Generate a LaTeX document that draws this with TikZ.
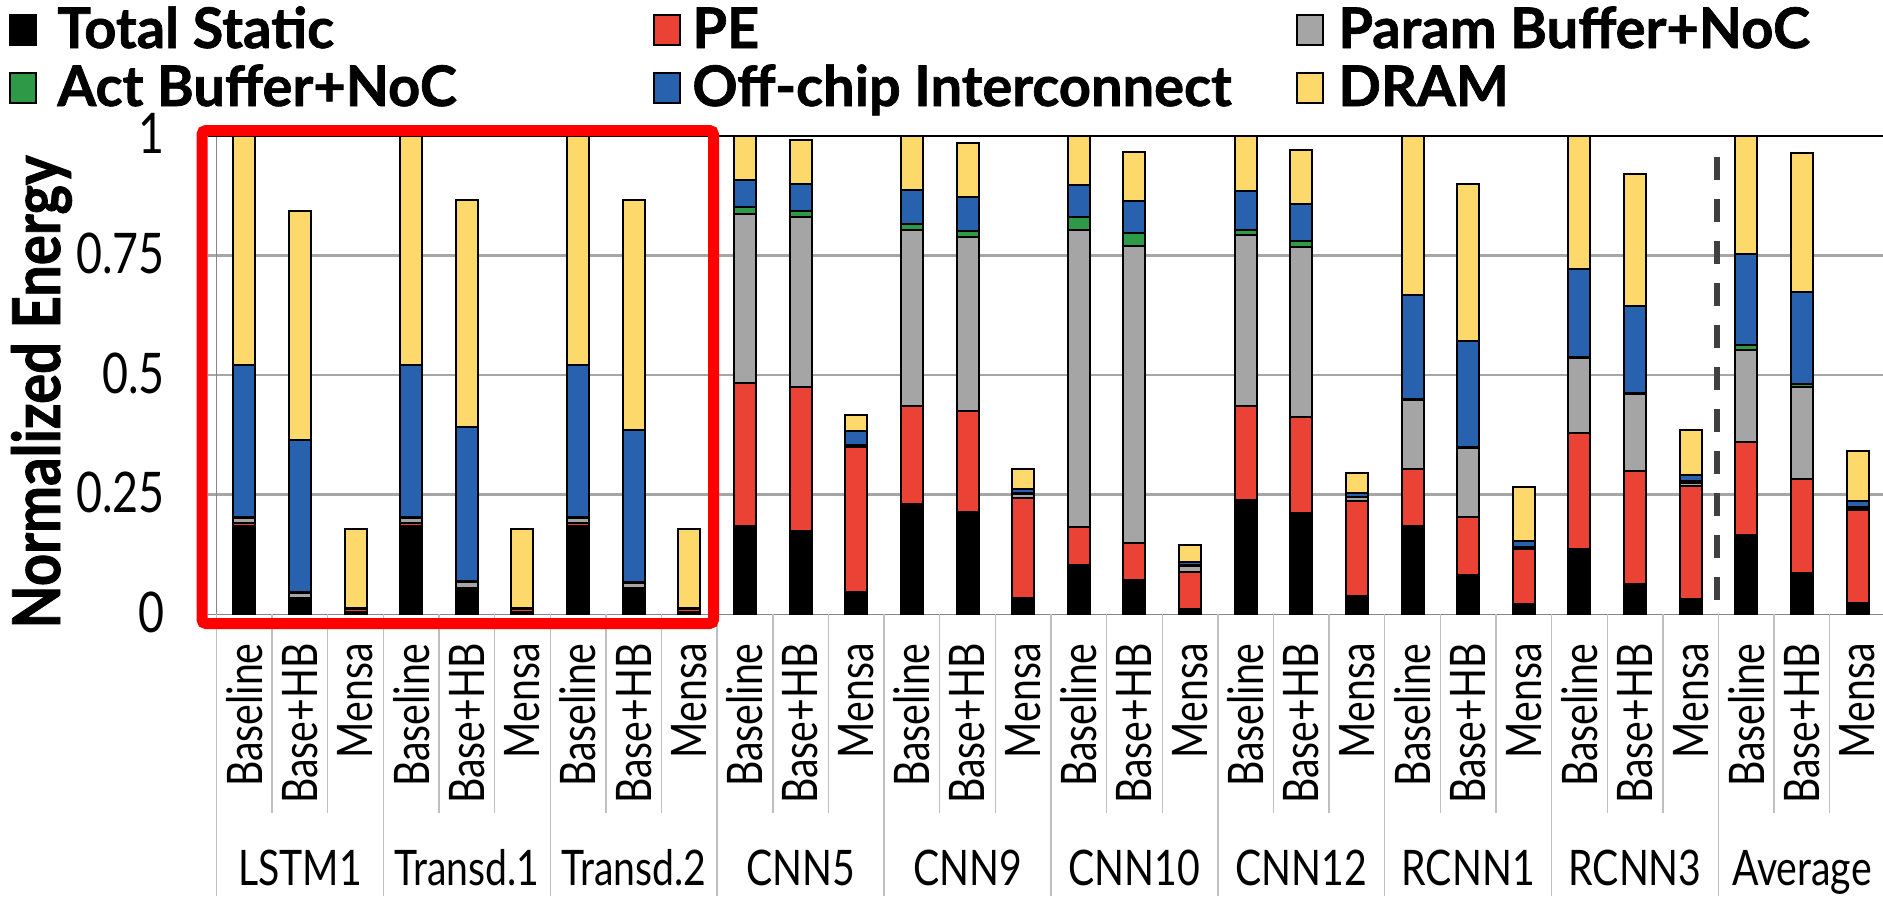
\documentclass[tikz,border=0pt]{standalone}
\usepackage{fontspec}
\setmainfont{Lato}
\newfontfamily\gsans{Lato}[FakeStretch=0.8]
\newfontfamily\gleg{Lato}[FakeStretch=1.0,FakeBold=1.2]
\newfontfamily\gtitle{Lato}[FakeStretch=0.85,FakeBold=1.2]
\definecolor{pec}{HTML}{EA4335}
\definecolor{paramc}{HTML}{A5A5A5}
\definecolor{actc}{HTML}{2E9A48}
\definecolor{offc}{HTML}{2862AE}
\definecolor{dramc}{HTML}{FDD86B}
\definecolor{gridc}{HTML}{A6A6A6}
\definecolor{axisc}{HTML}{868686}
\definecolor{sepc}{HTML}{BFBFBF}
\definecolor{dashc}{HTML}{404040}
\definecolor{boxred}{HTML}{FF0000}
\begin{document}
\begin{tikzpicture}[x=0.5pt,y=-0.5pt,
  seg/.style={draw=black,line width=1pt},
  gridline/.style={draw=gridc,line width=1.2pt},
  axisline/.style={draw=axisc,line width=0.7pt},
  sepline/.style={draw=sepc,line width=0.7pt},
  ticklab/.style={font=\gsans\fontsize{28}{28}\selectfont,inner sep=0pt,anchor=base east},
  catlab/.style={font=\gsans\fontsize{24.5}{24.5}\selectfont,inner sep=0pt,rotate=90,anchor=east},
  grplab/.style={font=\gsans\fontsize{24.5}{24.5}\selectfont,inner sep=0pt,anchor=base},
  legtext/.style={font=\gleg\bfseries\fontsize{28}{28}\selectfont,inner sep=0pt,anchor=base west},
  legmark/.style={draw=black,line width=1pt},
  titlelab/.style={font=\gtitle\bfseries\fontsize{33}{33}\selectfont,inner sep=0pt,rotate=90,anchor=base}
]
\useasboundingbox (0,0) rectangle (1883,896);

% gridlines
\foreach \v in {0.25,0.5,0.75} {
  \draw[gridline] (208,{614.3-478.6*\v}) -- (1883,{614.3-478.6*\v});
}
% axes
\draw[axisline] (208,614.3) -- (1883,614.3);
\draw[axisline] (216.5,135.7) -- (216.5,614.3);
% category separators
\foreach \g in {0,...,10} {
  \draw[sepline] ({216.5+3*\g*55.63},614.3) -- ({216.5+3*\g*55.63},896);
}
\foreach \g in {0,...,9} {
  \foreach \k in {1,2} {
    \draw[sepline] ({216.5+(3*\g+\k)*55.63},614.3) -- ({216.5+(3*\g+\k)*55.63},813);
  }
}

% bars
\foreach \i/\a/\b/\c/\d/\e/\f in {
0/0.184/0.190/0.201/0.203/0.520/1.0,
1/0.029/0.034/0.045/0.047/0.365/0.842,
2/0.004/0.011/0.012/0.013/0.014/0.178,
3/0.184/0.190/0.201/0.203/0.520/1.0,
4/0.050/0.056/0.067/0.069/0.391/0.866,
5/0.004/0.011/0.012/0.013/0.014/0.178,
6/0.184/0.190/0.201/0.203/0.520/1.0,
7/0.050/0.056/0.066/0.068/0.386/0.866,
8/0.004/0.011/0.012/0.013/0.014/0.178,
9/0.184/0.483/0.836/0.850/0.908/1.0,
10/0.175/0.475/0.830/0.842/0.900/0.992,
11/0.047/0.350/0.352/0.354/0.382/0.416,
12/0.230/0.436/0.804/0.816/0.887/1.0,
13/0.214/0.424/0.788/0.800/0.871/0.984,
14/0.034/0.244/0.252/0.253/0.261/0.303,
15/0.104/0.182/0.804/0.830/0.897/1.0,
16/0.071/0.148/0.770/0.796/0.863/0.967,
17/0.012/0.088/0.100/0.102/0.109/0.144,
18/0.238/0.436/0.793/0.804/0.884/1.0,
19/0.212/0.412/0.767/0.779/0.857/0.971,
20/0.038/0.237/0.245/0.246/0.253/0.295,
21/0.184/0.303/0.447/0.449/0.667/1.0,
22/0.083/0.203/0.347/0.349/0.571/0.900,
23/0.021/0.137/0.139/0.141/0.153/0.266,
24/0.137/0.379/0.535/0.537/0.722/1.0,
25/0.063/0.299/0.460/0.462/0.645/0.921,
26/0.033/0.269/0.274/0.278/0.292/0.386,
27/0.166/0.361/0.553/0.562/0.753/1.0,
28/0.086/0.282/0.475/0.482/0.674/0.963,
29/0.024/0.219/0.222/0.225/0.237/0.341} {
  \pgfmathsetmacro\xl{216.5+(\i+0.5)*55.63-11}
  \pgfmathsetmacro\xr{\xl+22}
  \foreach \lo/\hi/\col in {0/\a/black,\a/\b/pec,\b/\c/paramc,\c/\d/actc,\d/\e/offc,\e/\f/dramc} {
    \draw[seg,fill=\col] (\xl,{614.3-478.6*\lo}) rectangle (\xr,{614.3-478.6*\hi});
  }
}

% top border line
\draw[black,line width=1.2pt] (208,135.7) -- (1883,135.7);
% dashed separator
\draw[dashc,line width=3.25pt,dash pattern=on 11.65pt off 9.35pt] (1717,156.7) -- (1717,600);
% red highlight box
\draw[boxred,line width=5.5pt,rounded corners=2pt] (202,130.5) rectangle (713.5,623.5);

% tick labels
\node[ticklab] (t0) at (165,{614.3+18}) {0};
\node[ticklab] (t1) at (165,{494.7+18}) {0.25};
\node[ticklab] (t2) at (165,{375.0+18}) {0.5};
\node[ticklab] (t3) at (165,{255.4+18}) {0.75};
\node[ticklab] (t4) at (165,{135.7+18}) {1};

% axis title
\node[titlelab] (ytitle) at (60,392) {Normalized Energy};

% rotated category labels
\foreach \g in {0,...,9} {
  \foreach \k/\t in {0/Baseline,1/Base+HB,2/Mensa} {
    \node[catlab] (lab-\g-\k) at ({216.5+(3*\g+\k+0.5)*55.63},643) {\t};
  }
}
% group labels
\foreach \g/\t in {0/LSTM1,1/Transd.1,2/Transd.2,3/CNN5,4/CNN9,5/CNN10,6/CNN12,7/RCNN1,8/RCNN3,9/Average} {
  \node[grplab] (grp-\g) at ({216.5+(3*\g+1.5)*55.63},885) {\t};
}

% legend
\draw[legmark,fill=black] (10,15) rectangle (36,45);
\node[legtext] (lg1) at (57,48) {Total Static};
\draw[legmark,fill=pec] (654,15) rectangle (680,45);
\node[legtext] (lg2) at (692,48) {PE};
\draw[legmark,fill=paramc] (1297,15) rectangle (1323,45);
\node[legtext] (lg3) at (1338,48) {Param Buffer+NoC};
\draw[legmark,fill=actc] (10,73) rectangle (36,103);
\node[legtext] (lg4) at (57,106) {Act Buffer+NoC};
\draw[legmark,fill=offc] (654,73) rectangle (680,103);
\node[legtext] (lg5) at (692,106) {Off-chip Interconnect};
\draw[legmark,fill=dramc] (1297,73) rectangle (1323,103);
\node[legtext] (lg6) at (1338,106) {DRAM};
\end{tikzpicture}
\end{document}
